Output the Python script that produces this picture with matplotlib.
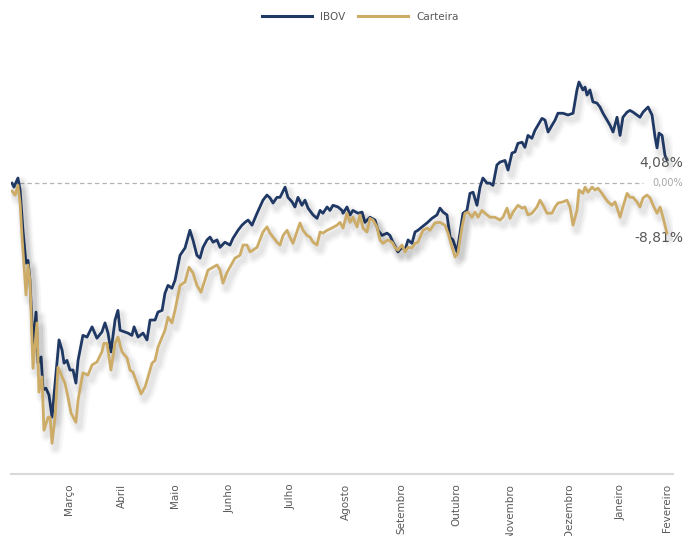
import matplotlib
matplotlib.use("Agg")
import matplotlib.pyplot as plt
import matplotlib.patheffects as pe
from matplotlib.lines import Line2D

# dias corridos desde o inicio e retorno acumulado (%)
ibov_dias = [0, 1.1, 3.3, 4.5, 6.1, 7.8, 8.9, 10.0, 11.7, 13.4, 14.5, 16.2, 17.3, 18.9, 20.6, 22.3,
             24.0, 26.2, 27.9, 29.0, 30.6, 32.3, 34.0, 35.6, 36.8, 39.5, 41.8, 44.6, 47.3, 50.1,
             51.8, 53.5, 55.1, 57.4, 59.0, 60.2, 62.9, 64.6, 66.8, 68.0, 70.2, 73.0, 75.2, 76.9,
             79.7, 81.3, 83.6, 85.2, 86.9, 89.1, 90.8, 93.6, 96.4, 99.1, 100.8, 103.0, 104.7,
             106.4, 108.6, 110.3, 112.0, 114.2, 115.9, 118.6, 121.4, 123.1, 125.9, 128.1, 129.8,
             131.5, 133.7, 136.5, 138.1, 139.8, 142.0, 143.7, 145.4, 147.6, 149.3, 152.1, 153.7,
             156.0, 157.6, 159.3, 161.5, 163.2, 164.9, 167.7, 169.9, 171.6, 173.2, 175.5, 177.1,
             178.8, 181.6, 183.8, 184.4, 186.6, 188.3, 189.9, 192.7, 195.0, 196.6, 199.4, 202.2,
             203.9, 206.1, 208.9, 210.5, 212.2, 215.0, 217.2, 218.9, 220.6, 222.8, 224.5, 226.1,
             228.4, 231.2, 233.9, 236.7, 238.4, 240.1, 242.3, 244.0, 245.6, 247.9, 249.5, 251.2,
             253.4, 255.1, 256.8, 259.0, 260.7, 262.3, 264.6, 266.2, 267.9, 270.1, 271.8, 274.6,
             276.3, 278.5, 280.2, 281.8, 284.1, 285.7, 287.4, 289.6, 291.3, 293.0, 295.2, 296.9,
             298.6, 300.8, 302.5, 304.1, 306.9, 309.7, 312.5, 314.7, 315.8, 318.0, 319.2, 320.3,
             321.9, 323.6, 325.8, 327.5, 329.2, 331.4, 333.1, 334.8, 337.0, 338.7, 340.3, 342.6,
             344.2, 345.9, 348.1, 349.8, 351.5, 354.3, 356.5, 358.2, 359.3, 360.4, 362.1, 363.7,
             364.8]
ibov = [0.0, -0.7, 0.9, -1.2, -8.3, -14.1, -13.6, -17.1, -28.5, -22.7, -31.7, -30.6, -36.4, -36.1,
        -37.3, -41.2, -35.2, -27.6, -29.4, -31.7, -31.2, -32.9, -32.9, -35.2, -31.2, -26.8, -27.1,
        -25.3, -27.3, -26.2, -24.6, -26.4, -29.7, -24.1, -22.4, -25.9, -26.2, -26.4, -26.8, -25.3,
        -27.1, -26.4, -27.6, -24.1, -24.1, -22.7, -22.4, -19.4, -18.0, -18.5, -17.1, -12.7, -11.4,
        -8.3, -10.0, -12.7, -13.2, -11.3, -10.0, -9.5, -10.4, -10.0, -11.3, -10.4, -10.9, -9.7,
        -8.3, -7.4, -6.9, -6.5, -7.4, -5.3, -4.2, -3.0, -2.1, -2.6, -3.5, -2.5, -2.5, -0.7, -2.5,
        -3.3, -4.2, -2.5, -3.9, -3.0, -4.4, -5.6, -6.2, -4.8, -5.3, -4.2, -4.8, -3.9, -4.2, -4.8,
        -5.3, -4.2, -5.6, -4.8, -5.3, -5.1, -6.9, -6.0, -6.5, -8.3, -9.2, -8.8, -9.2, -10.4, -12.1,
        -11.3, -11.8, -10.0, -10.6, -8.6, -8.3, -7.7, -7.0, -6.2, -5.6, -4.4, -5.1, -5.6, -9.5,
        -10.0, -12.1, -8.8, -5.3, -4.8, -1.8, -1.6, -3.9, -0.7, 0.9, 0.0, 0.0, -0.4, 3.2, 3.7,
        4.0, 2.3, 5.3, 5.5, 7.0, 7.2, 6.3, 8.4, 7.9, 9.3, 10.2, 11.4, 11.1, 9.0, 10.2, 11.1, 12.3,
        12.3, 12.0, 12.3, 16.4, 17.8, 16.4, 16.9, 15.5, 16.4, 14.3, 14.1, 13.4, 12.3, 11.1, 10.2,
        9.0, 11.6, 8.4, 11.6, 12.5, 12.8, 12.5, 12.0, 11.6, 12.5, 13.4, 12.0, 8.1, 6.2, 8.8, 8.4,
        4.9, 4.08]

cart_dias = [0, 1.7, 3.3, 4.5, 5.6, 7.8, 8.9, 10.0, 11.7, 13.9, 15.0, 16.7, 17.8, 20.1, 21.2, 22.3,
             24.0, 25.6, 27.9, 29.5, 31.2, 32.9, 35.6, 36.8, 39.5, 42.3, 44.6, 47.3, 50.1, 51.2,
             52.9, 55.1, 57.4, 59.0, 61.3, 64.1, 65.7, 67.4, 69.6, 71.9, 74.1, 75.8, 78.0, 79.7,
             81.3, 83.6, 85.2, 86.9, 89.1, 90.8, 93.6, 96.4, 98.6, 100.8, 103.0, 105.3, 106.9,
             109.2, 112.0, 114.2, 115.9, 117.5, 119.8, 121.4, 124.2, 127.0, 128.7, 130.9, 132.6,
             134.2, 136.5, 138.1, 139.8, 142.0, 143.7, 145.4, 147.6, 149.3, 151.0, 153.2, 154.8,
             156.5, 158.7, 160.4, 162.1, 164.3, 166.0, 167.7, 169.9, 171.6, 173.2, 175.5, 178.2,
             181.0, 182.7, 184.4, 186.6, 188.3, 189.9, 192.2, 193.8, 195.5, 197.7, 199.4, 201.1,
             203.3, 205.0, 206.6, 209.4, 211.7, 213.3, 215.0, 217.2, 218.9, 220.6, 222.8, 224.5,
             226.1, 228.9, 231.2, 232.8, 235.6, 238.4, 241.2, 242.9, 245.1, 246.8, 248.4, 250.7,
             252.3, 254.0, 256.2, 257.9, 259.6, 261.8, 263.5, 266.2, 269.0, 271.8, 273.5, 275.7,
             277.4, 279.1, 281.8, 284.1, 285.7, 287.4, 289.6, 292.4, 294.1, 295.8, 298.0, 300.8,
             302.5, 304.1, 306.9, 309.1, 310.8, 312.5, 314.7, 315.8, 318.0, 319.2, 320.8, 323.1,
             324.7, 326.4, 328.6, 330.3, 332.0, 334.2, 335.9, 338.7, 340.3, 342.6, 344.2, 345.9,
             348.1, 349.8, 351.5, 353.7, 355.4, 357.1, 359.3, 361.0, 362.6, 364.8]
carteira = [-1.4, -2.1, -0.4, -3.5, -9.5, -19.7, -14.4, -17.1, -32.6, -24.6, -36.8, -34.1, -43.5,
            -41.2, -41.2, -45.8, -41.2, -32.4, -34.1, -35.2, -37.7, -40.5, -42.1, -38.2, -33.4,
            -33.8, -32.0, -31.5, -29.7, -28.2, -28.2, -32.9, -28.2, -27.1, -29.7, -30.8, -32.9,
            -33.3, -35.2, -37.1, -35.9, -34.1, -31.7, -31.2, -28.9, -27.1, -25.9, -23.6, -24.6,
            -22.4, -18.0, -17.4, -14.8, -15.8, -18.0, -19.2, -17.6, -15.3, -14.8, -14.4, -15.3,
            -17.6, -15.7, -14.8, -13.2, -12.7, -10.9, -10.9, -12.1, -11.8, -11.3, -10.0, -8.6,
            -7.7, -8.8, -9.5, -10.4, -10.9, -9.2, -8.3, -9.5, -10.6, -8.6, -7.0, -8.3, -9.2, -9.5,
            -10.4, -10.9, -8.6, -8.8, -8.3, -7.9, -7.4, -6.9, -7.9, -5.3, -6.9, -6.0, -7.7, -5.6,
            -7.9, -8.6, -6.2, -6.5, -7.7, -10.0, -10.6, -10.0, -10.4, -11.3, -11.8, -10.9, -12.1,
            -11.3, -11.4, -10.6, -10.4, -8.3, -7.9, -8.3, -7.0, -6.9, -7.4, -8.8, -11.3, -13.0,
            -12.3, -7.7, -5.3, -5.1, -6.0, -5.1, -6.0, -4.8, -5.3, -6.0, -6.0, -6.5, -6.0, -4.4,
            -6.2, -5.1, -3.9, -4.4, -4.2, -5.6, -5.3, -4.2, -3.0, -3.9, -5.3, -5.3, -4.2, -3.5,
            -3.3, -3.0, -4.2, -7.4, -4.8, -1.2, -1.8, -0.7, -1.6, -0.7, -1.2, -0.9, -1.8, -2.6,
            -3.3, -3.9, -3.3, -6.0, -4.2, -1.8, -2.5, -2.5, -3.3, -4.2, -2.6, -2.1, -2.6, -3.9,
            -5.3, -4.2, -6.0, -8.81]

meses = ['Março', 'Abril', 'Maio', 'Junho', 'Julho', 'Agosto', 'Setembro', 'Outubro',
         'Novembro', 'Dezembro', 'Janeiro', 'Fevereiro']
meses_pos = [31.7, 61.3, 90.8, 121.4, 155.4, 186.0, 216.7, 247.3, 277.4, 310.2, 339.2, 364.8]

azul = '#1f3864'
dourado = '#cdac68'

fig = plt.figure(figsize=(6.83, 5.36), dpi=100)
ax = fig.add_axes([0.0161, 0.1157, 0.9693, 0.8097])

# sombra difusa: varias camadas claras
sombra = [pe.SimpleLineShadow(offset=(2.5, -3.5), shadow_color='k', alpha=0.025, linewidth=10),
          pe.SimpleLineShadow(offset=(2.5, -3.5), shadow_color='k', alpha=0.035, linewidth=7),
          pe.SimpleLineShadow(offset=(2.5, -3.5), shadow_color='k', alpha=0.045, linewidth=4),
          pe.Normal()]

ax.axhline(0, xmin=0.0015, xmax=0.955, color='#b4b4b4', lw=0.9, ls=(0, (3.5, 2.5)), zorder=1)
ax.plot(ibov_dias, ibov, color=azul, lw=2, path_effects=sombra, zorder=3)
ax.plot(cart_dias, carteira, color=dourado, lw=2, path_effects=sombra, zorder=4)

ax.annotate('4,08%', xy=(ibov_dias[-1], ibov[-1]), xytext=(11.5, -2.5), textcoords='offset points',
            ha='right', va='center', fontsize=10, color='#595959')
ax.annotate('-8,81%', xy=(cart_dias[-1], carteira[-1]), xytext=(11.5, -3.5), textcoords='offset points',
            ha='right', va='center', fontsize=10, color='#595959')
ax.annotate('0,00%', xy=(cart_dias[-1], 0), xytext=(11.5, 0), textcoords='offset points',
            ha='right', va='center', fontsize=7, color='#a6a6a6')

ax.set_xlim(-0.56, 368.2)
ax.set_ylim(-51.2, 25.2)
ax.set_xticks(meses_pos)
ax.set_xticklabels(meses, rotation=90, fontsize=7.5, color='#595959')
ax.tick_params(axis='x', length=0, pad=7)
ax.set_yticks([])
for s in ['top', 'left', 'right']:
    ax.spines[s].set_visible(False)
ax.spines['bottom'].set_color('#d9d9d9')
ax.spines['bottom'].set_linewidth(1.5)

handles = [Line2D([], [], color=azul, lw=2.2), Line2D([], [], color=dourado, lw=2.2)]
fig.legend(handles, ['IBOV', 'Carteira'], loc='upper center', bbox_to_anchor=(0.527, 0.995),
           ncol=2, frameon=False, fontsize=7.5, handlelength=4.8, columnspacing=1.2,
           labelcolor='#595959')

plt.savefig('out.png', dpi=100)
